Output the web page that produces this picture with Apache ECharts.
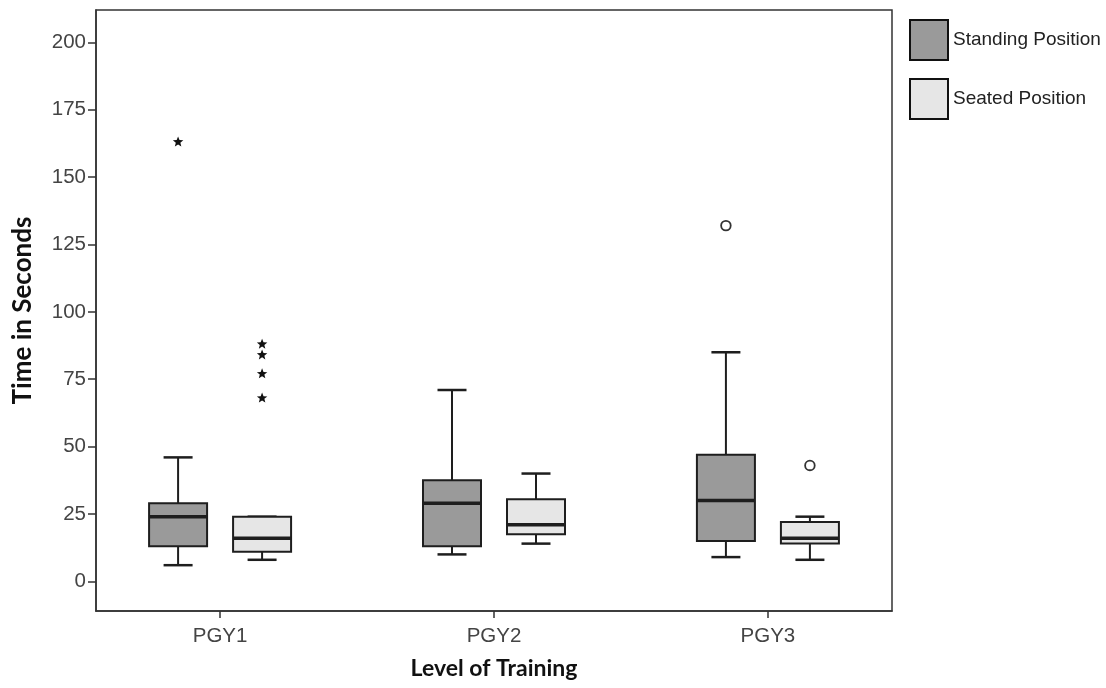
<!DOCTYPE html>
<html><head><meta charset="utf-8">
<script src="https://cdn.jsdelivr.net/npm/echarts@6/dist/echarts.min.js"></script>
<style>html,body{margin:0;padding:0;background:#fff}#c{width:1106px;height:688px}</style>
</head><body><div id="c"></div>
<script>
const categories = ['PGY1', 'PGY2', 'PGY3'];
const yTicks = [0, 25, 50, 75, 100, 125, 150, 175, 200];
// [min, Q1, median, Q3, max]
const standing = [[6, 13, 24, 29, 46], [10, 13, 29, 37.5, 71], [9, 15, 30, 47, 85]];
const seated = [[8, 11, 16, 24, 24], [14, 17.5, 21, 30.5, 40], [8, 14, 16, 22, 24]];
// [category index, value, kind]
const standingOutliers = [[0, 163, 'star'], [2, 132, 'circle']];
const seatedOutliers = [[0, 88, 'star'], [0, 84, 'star'], [0, 77, 'star'], [0, 68, 'star'], [2, 43, 'circle']];

const OFFSET = 42, BOXW = 58, CAPW = 29;
const STAND_FILL = '#9a9a9a', SEAT_FILL = '#e6e6e6', EDGE = '#1e1e1e';

function boxRender(off, fill) {
  return function (params, api) {
    const i = api.value(0);
    const cx = api.coord([i, 0])[0] + off;
    const y = k => api.coord([i, api.value(k)])[1];
    const yMin = y(1), yQ1 = y(2), yMed = y(3), yQ3 = y(4), yMax = y(5);
    const ln = (x1, y1, x2, y2, w) => ({type: 'line', shape: {x1, y1, x2, y2}, style: {stroke: EDGE, lineWidth: w}});
    return {type: 'group', children: [
      ln(cx, yQ3, cx, yMax, 2),
      ln(cx, yQ1, cx, yMin, 2),
      ln(cx - CAPW / 2, yMax, cx + CAPW / 2, yMax, 2.5),
      ln(cx - CAPW / 2, yMin, cx + CAPW / 2, yMin, 2.5),
      {type: 'rect', shape: {x: cx - BOXW / 2, y: yQ3, width: BOXW, height: yQ1 - yQ3},
       style: {fill: fill, stroke: EDGE, lineWidth: 2}},
      ln(cx - BOXW / 2, yMed, cx + BOXW / 2, yMed, 3.5)
    ]};
  };
}
function starPoints(cx, cy, R, r) {
  const pts = [];
  for (let k = 0; k < 10; k++) {
    const a = -Math.PI / 2 + k * Math.PI / 5;
    const rad = k % 2 === 0 ? R : r;
    pts.push([cx + rad * Math.cos(a), cy + rad * Math.sin(a)]);
  }
  return pts;
}
function outlierRender(off) {
  return function (params, api) {
    const i = api.value(0);
    const p = api.coord([i, api.value(1)]);
    const cx = p[0] + off, cy = p[1];
    const kind = api.value(2);
    if (kind === 'circle') {
      return {type: 'circle', shape: {cx, cy, r: 4.8}, style: {fill: '#fff', stroke: '#333', lineWidth: 1.8}};
    }
    return {type: 'polygon', shape: {points: starPoints(cx, cy, 5.5, 2.4)}, style: {fill: '#111'}};
  };
}

const chart = echarts.init(document.getElementById('c'));
chart.setOption({
  animation: false,
  grid: {left: 96, top: 10, right: 214, bottom: 77, show: true, borderColor: '#333', borderWidth: 1.5,
    backgroundColor: 'transparent', containLabel: false, outerBoundsMode: 'none'},
  legend: {
    orient: 'vertical', left: 904, top: 14, itemWidth: 38, itemHeight: 40, itemGap: 17,
    icon: 'rect',
    textStyle: {fontFamily: 'Liberation Sans', fontSize: 19, color: '#222'},
    data: [
      {name: 'Standing Position', itemStyle: {color: STAND_FILL, borderColor: '#111', borderWidth: 2}},
      {name: 'Seated Position', itemStyle: {color: SEAT_FILL, borderColor: '#111', borderWidth: 2}}
    ]
  },
  xAxis: {
    type: 'value', min: -0.453, max: 2.453,
    name: 'Level of Training', nameLocation: 'middle', nameGap: 46,
    nameTextStyle: {fontFamily: 'Lato', fontWeight: 'bold', fontSize: 23, color: '#111'},
    axisLine: {show: true, onZero: false, lineStyle: {color: '#333', width: 1.5}},
    axisTick: {show: true, customValues: [0, 1, 2], length: 7, lineStyle: {color: '#333', width: 1.5}},
    axisLabel: {customValues: [0, 1, 2], formatter: v => categories[Math.round(v)], margin: 15,
      fontFamily: 'Liberation Sans', fontSize: 20.5, color: '#444'},
    splitLine: {show: false}
  },
  yAxis: {
    type: 'value', min: -11, max: 212,
    name: 'Time in Seconds', nameLocation: 'middle', nameGap: 60,
    nameTextStyle: {fontFamily: 'Lato', fontWeight: 'bold', fontSize: 26, color: '#111'},
    axisLine: {show: true, onZero: false, lineStyle: {color: '#333', width: 1.5}},
    axisTick: {show: true, customValues: yTicks, length: 8, lineStyle: {color: '#333', width: 1.5}},
    axisLabel: {customValues: yTicks, margin: 10, fontFamily: 'Liberation Sans', fontSize: 20.5, color: '#444'},
    splitLine: {show: false}
  },
  series: [
    {name: 'Standing Position', type: 'custom', renderItem: boxRender(-OFFSET, STAND_FILL),
     itemStyle: {color: STAND_FILL}, encode: {x: 0, y: [1, 2, 3, 4, 5]},
     data: standing.map((d, i) => [i].concat(d))},
    {name: 'Seated Position', type: 'custom', renderItem: boxRender(OFFSET, SEAT_FILL),
     itemStyle: {color: SEAT_FILL}, encode: {x: 0, y: [1, 2, 3, 4, 5]},
     data: seated.map((d, i) => [i].concat(d))},
    {name: 'standingOut', type: 'custom', renderItem: outlierRender(-OFFSET),
     dimensions: ['x', 'y', {name: 'kind', type: 'ordinal'}], encode: {x: 0, y: 1},
     data: standingOutliers},
    {name: 'seatedOut', type: 'custom', renderItem: outlierRender(OFFSET),
     dimensions: ['x', 'y', {name: 'kind', type: 'ordinal'}], encode: {x: 0, y: 1},
     data: seatedOutliers}
  ]
});
</script></body></html>
